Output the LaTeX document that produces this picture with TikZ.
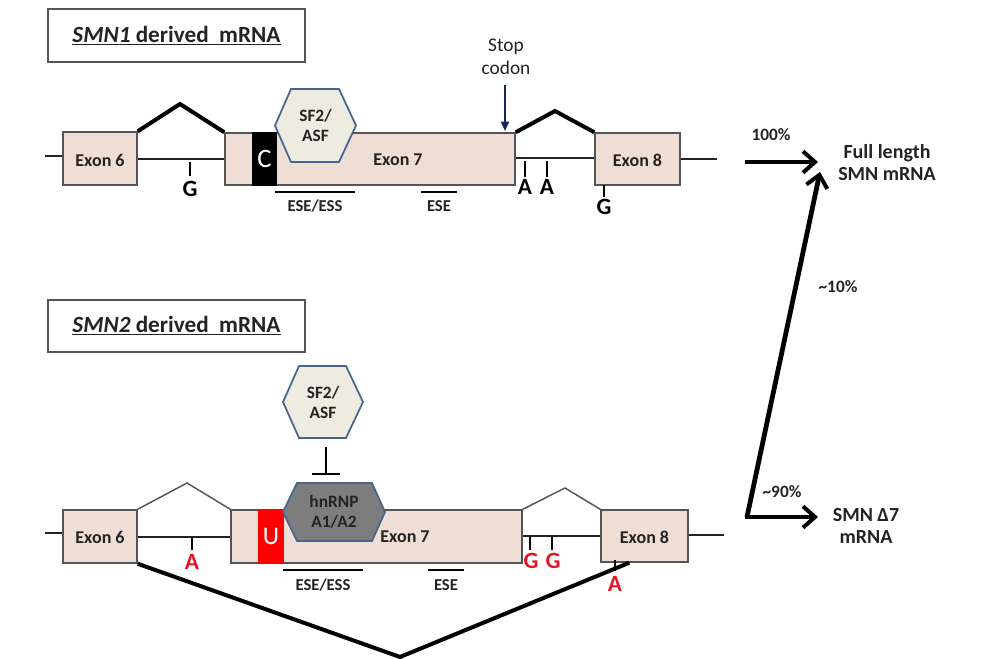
\documentclass[tikz,border=0pt]{standalone}
\usepackage{fontspec}
\setmainfont{Carlito}
\usetikzlibrary{arrows.meta,calc}
\definecolor{exonfill}{RGB}{238,222,214}
\definecolor{exonline}{RGB}{85,85,85}
\definecolor{hexfill}{RGB}{238,236,225}
\definecolor{hexline}{RGB}{70,100,140}
\definecolor{hngray}{RGB}{125,125,125}
\definecolor{navy}{RGB}{20,35,90}
\definecolor{mutred}{RGB}{230,20,30}
\definecolor{txt}{RGB}{35,35,35}
\newcommand{\fsz}[2]{\fontsize{#1}{#2}\selectfont}
\tikzset{
  exon/.style={draw=exonline, fill=exonfill, line width=1.1pt, inner sep=0pt},
  exlabel/.style={font=\bfseries\fsz{13.5}{16}, text=txt, inner sep=0pt},
  titlebox/.style={draw=exonline, line width=1.1pt, inner sep=0pt, font=\bfseries\fsz{17.4}{20}, text=txt},
  intron/.style={line width=1.3pt, draw=txt},
  thickarc/.style={line width=3pt, line join=miter, draw=black},
  thinarc/.style={line width=1.1pt, draw=exonline},
  tick/.style={line width=1.3pt, draw=black},
  nuc/.style={font=\bfseries\fsz{17.5}{20}, inner sep=0pt},
  esebar/.style={line width=1.4pt, draw=black},
  eselabel/.style={font=\bfseries\fsz{12.5}{15}, text=txt, inner sep=0pt},
  hexA/.style={fill=hexfill, draw=hexline, line width=1.3pt, line join=miter},
  hexB/.style={fill=hngray, draw=hexline, line width=1.3pt, line join=miter},
  hextext/.style={font=\bfseries\fsz{13}{15}, text=txt, align=center, inner sep=0pt},
  bigarrow/.style={line width=3.6pt, -{Straight Barb[length=9pt,width=16pt,line width=3pt]}},
  pct/.style={font=\bfseries\fsz{13}{15}, text=txt, inner sep=0pt},
  result/.style={font=\bfseries\fsz{15}{16.5}, text=txt, align=center, inner sep=0pt},
  stoplabel/.style={font=\fsz{14.5}{17.3}, text=txt, align=center, inner sep=0pt},
}
\begin{document}
\begin{tikzpicture}[x=0.75pt,y=-0.75pt]
\useasboundingbox (0,0) rectangle (983,659);

% ---------------- SMN1 ----------------
\node[titlebox, minimum width={257*0.75pt}, minimum height={53*0.75pt}] (t1) at (176.5,35.5)
  {\underline{\textit{SMN1} derived\ \ mRNA}};

\coordinate (l1) at (45,156);
\node[exon, minimum width={74*0.75pt}, minimum height={53*0.75pt}] (e6a) at (100,158.5) {};
\node[exon, minimum width={290*0.75pt}, minimum height={52*0.75pt}] (e7a) at (370,159) {};
\node[exon, minimum width={85*0.75pt}, minimum height={52*0.75pt}] (e8a) at (637.5,159) {};
\node[exlabel] (x6a) at (100,160) {Exon 6};
\node[exlabel] (x7a) at (398,160) {Exon 7};
\node[exlabel] (x8a) at (637.5,160) {Exon 8};
\node[fill=black, draw=black, line width=0.8pt, minimum width={23*0.75pt}, minimum height={52*0.75pt}, inner sep=0pt,
  text=white, font=\fsz{20}{22}] (ca) at (264.5,159) {C};
\coordinate (r1) at (717,159);

\draw[intron] (l1) -- (l1 -| e6a.west);
\draw[intron] (e6a.east |- 0,159) -- (e7a.west |- 0,159);
\draw[intron] (e7a.east |- 0,158) -- (e8a.west |- 0,158);
\draw[intron] (e8a.east |- r1) -- (r1);

\coordinate (p1) at (180,104);
\coordinate (p2) at (555,111);
\draw[thickarc] (e6a.north east) -- (p1) -- (e7a.north west);
\draw[thickarc] (e7a.north east) -- (p2) -- (e8a.north west);

% hexagon SF2/ASF (top)
\draw[hexA] (275,125.5) -- (291,89) -- (339,89) -- (356,125.5) -- (339,162) -- (291,162) -- cycle;
\node[hextext] (sfa) at (315.5,125.5) {SF2/\\ASF};

% ticks and nucleotides
\draw[tick] (190,162) -- (190,176);
\node[nuc] (ga) at (190,189) {G};
\draw[tick] (525,161) -- (525,177);
\draw[tick] (547,161) -- (547,177);
\node[nuc] (aa1) at (525,187) {A};
\node[nuc] (aa2) at (547,187) {A};
\draw[tick] (604,185) -- (604,197);
\node[nuc] (ga2) at (604,207) {G};

% ESE
\draw[esebar] (275,192) -- (355,192);
\node[eselabel] (esea) at (315,206) {ESE/ESS};
\draw[esebar] (421,192) -- (457,192);
\node[eselabel] (eseb) at (439,206) {ESE};

% stop codon
\node[stoplabel] (stop) at (506,57) {Stop\\codon};
\coordinate (stopend) at (505,131);
\draw[navy, line width=1.3pt, -{Triangle[length=7pt,width=6pt]}] (505,85) -- (stopend);

% ---------------- SMN2 ----------------
\node[titlebox, minimum width={257*0.75pt}, minimum height={52*0.75pt}] (t2) at (176.5,326)
  {\underline{\textit{SMN2} derived\ \ mRNA}};

\coordinate (l2) at (45,533);
\node[exon, minimum width={74*0.75pt}, minimum height={53*0.75pt}] (e6b) at (100,536.5) {};
\node[exon, minimum width={291*0.75pt}, minimum height={53*0.75pt}] (e7b) at (376.5,536.5) {};
\node[exon, minimum width={87*0.75pt}, minimum height={52*0.75pt}] (e8b) at (644.5,536) {};
\node[exlabel] (x6b) at (100,537) {Exon 6};
\node[exlabel] (x7b) at (405,537) {Exon 7};
\node[exlabel] (x8b) at (644.5,537) {Exon 8};
\node[fill=red, draw=red, line width=0.8pt, minimum width={24*0.75pt}, minimum height={53*0.75pt}, inner sep=0pt,
  text=white, font=\fsz{19}{21}] (ub) at (271,536.5) {U};
\coordinate (r2) at (724,535);

\draw[intron] (l2) -- (l2 -| e6b.west);
\draw[intron] (e6b.east |- 0,537) -- (e7b.west |- 0,537);
\draw[intron] (e7b.east |- 0,536) -- (e8b.west |- 0,536);
\draw[intron] (e8b.east |- r2) -- (r2);

\coordinate (p3) at (187,483);
\coordinate (p4) at (565,488);
\draw[thinarc] (e6b.north east) -- (p3) -- (e7b.north west);
\draw[thinarc] (e7b.north east) -- (p4) -- (e8b.north west);

% exon skipping line
\coordinate (skipv) at (400,657);
\draw[thickarc] (e6b.south east) -- (skipv) -- ($(e8b.south west)+(29,0)$);

% hnRNP hexagon
\draw[hexB] (283,512) -- (297,483) -- (372,483) -- (385,512) -- (372,541) -- (297,541) -- cycle;
\node[hextext] (hn) at (334,512) {hnRNP\\A1/A2};

% SF2/ASF hexagon (bottom)
\draw[hexA] (283,402) -- (299,366) -- (346,366) -- (363,402) -- (346,438) -- (299,438) -- cycle;
\node[hextext] (sfb) at (323,402) {SF2/\\ASF};

% inhibition
\coordinate (inh) at (326,475);
\draw[line width=1.6pt, -{Bar[width={28*0.75pt}, line width=1.6pt]}] (326,447) -- (inh);

% ticks and red nucleotides
\draw[tick] (192,537) -- (192,550);
\node[nuc, text=mutred] (ab) at (192,562) {A};
\draw[tick] (530,537) -- (530,550);
\draw[tick] (552,537) -- (552,550);
\node[nuc, text=mutred] (gb1) at (531,561) {G};
\node[nuc, text=mutred] (gb2) at (553,561) {G};
\draw[tick] (615,560) -- (615,571);
\node[nuc, text=mutred] (ab2) at (615,584) {A};

% ESE
\draw[esebar] (283,570) -- (363,570);
\node[eselabel] (esec) at (323,585) {ESE/ESS};
\draw[esebar] (428,570) -- (464,570);
\node[eselabel] (esed) at (446,585) {ESE};

% ---------------- outcomes ----------------
\node[result] (full) at (887,163) {Full length\\SMN mRNA};
\node[result] (delta) at (866,526) {SMN Δ7\\mRNA};
\coordinate (a1) at (745,162);
\coordinate (a1e) at (818,162);
\coordinate (corner) at (747,517);
\coordinate (upend) at (820,172);
\coordinate (rtend) at (818,517);
\draw[bigarrow] (a1) -- (a1e);
\draw[bigarrow] (corner) -- (upend);
\draw[bigarrow, line cap=butt] ([xshift=-1.5pt]corner) -- (rtend);
\node[pct] (p100) at (771,135) {100\%};
\node[pct] (p10) at (838,287) {\textasciitilde 10\%};
\node[pct] (p90) at (782,492) {\textasciitilde 90\%};
\end{tikzpicture}
\end{document}
